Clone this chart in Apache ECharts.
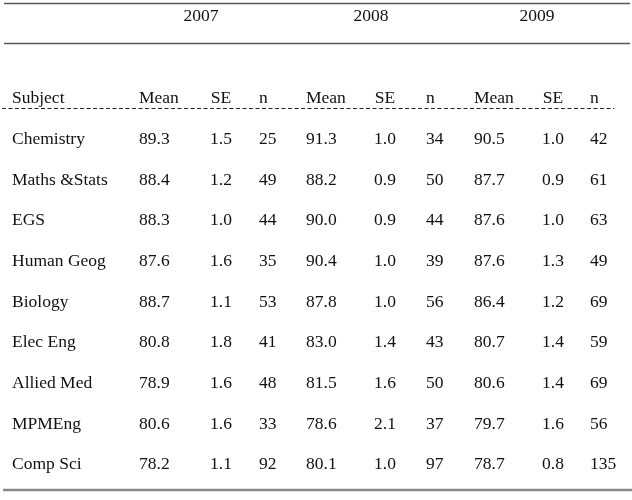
<!DOCTYPE html>
<html>
<head>
  <meta charset="utf-8">
  <title>Subject means by year</title>
  <script src="https://cdn.jsdelivr.net/npm/echarts/dist/echarts.min.js"></script>
  <style>
    html, body { margin: 0; padding: 0; background: #fff; }
    #main { width: 632px; height: 500px; }
  </style>
</head>
<body>

<div id="main"></div>

<script>
  // table data
  const years = ['2007', '2008', '2009'];
  const headers = ['Subject', 'Mean', 'SE', 'n', 'Mean', 'SE', 'n', 'Mean', 'SE', 'n'];
  const subjects = ['Chemistry', 'Maths &Stats', 'EGS', 'Human Geog', 'Biology',
    'Elec Eng', 'Allied Med', 'MPMEng', 'Comp Sci'];

  const mean2007 = [89.3, 88.4, 88.3, 87.6, 88.7, 80.8, 78.9, 80.6, 78.2];
  const se2007 = [1.5, 1.2, 1.0, 1.6, 1.1, 1.8, 1.6, 1.6, 1.1];
  const n2007 = [25, 49, 44, 35, 53, 41, 48, 33, 92];

  const mean2008 = [91.3, 88.2, 90.0, 90.4, 87.8, 83.0, 81.5, 78.6, 80.1];
  const se2008 = [1.0, 0.9, 0.9, 1.0, 1.0, 1.4, 1.6, 2.1, 1.0];
  const n2008 = [34, 50, 44, 39, 56, 43, 50, 37, 97];

  const mean2009 = [90.5, 87.7, 87.6, 87.6, 86.4, 80.7, 80.6, 79.7, 78.7];
  const se2009 = [1.0, 0.9, 1.0, 1.3, 1.2, 1.4, 1.4, 1.6, 0.8];
  const n2009 = [42, 61, 63, 49, 69, 59, 69, 56, 135];

  // layout: column anchors on the (hidden) x axis
  const colX = [12, 139, 221, 259, 306, 385, 426, 474, 553, 590];
  const colAlign = ['left', 'left', 'center', 'left', 'left', 'center', 'left', 'left', 'center', 'left'];
  const yearX = [201, 371, 537];

  const FONT = '"Liberation Serif", "Times New Roman", serif';
  const FS = 17.5;

  const columns = [
    subjects,
    mean2007.map(v => v.toFixed(1)), se2007.map(v => v.toFixed(1)), n2007.map(String),
    mean2008.map(v => v.toFixed(1)), se2008.map(v => v.toFixed(1)), n2008.map(String),
    mean2009.map(v => v.toFixed(1)), se2009.map(v => v.toFixed(1)), n2009.map(String)
  ];

  function cellText(x, y, text, align) {
    return {
      type: 'text',
      style: {
        x: x,
        y: y,
        text: text,
        fill: '#111',
        font: FS + 'px ' + FONT,
        align: align,
        verticalAlign: 'middle'
      }
    };
  }

  var myChart = echarts.init(document.getElementById('main'));

  var option = {
    animation: false,
    backgroundColor: '#fff',
    grid: { left: 0, right: 0, top: 119, bottom: 15 },
    xAxis: { type: 'value', min: 0, max: 632, show: false },
    yAxis: { type: 'category', data: subjects, inverse: true, show: false },
    graphic: [
      { type: 'line', shape: { x1: 4, y1: 3.5, x2: 630, y2: 3.5 },
        style: { stroke: '#555', lineWidth: 1.3 } },
      { type: 'line', shape: { x1: 4, y1: 43.5, x2: 630, y2: 43.5 },
        style: { stroke: '#555', lineWidth: 1.3 } },
      { type: 'line', shape: { x1: 2, y1: 108.5, x2: 614, y2: 108.5 },
        style: { stroke: '#222', lineWidth: 1, lineDash: [4, 2.5] } },
      { type: 'line', shape: { x1: 3, y1: 490, x2: 632, y2: 490 },
        style: { stroke: '#888', lineWidth: 2.5 } }
    ].concat(years.map((yr, i) => ({
      type: 'text',
      style: {
        x: yearX[i], y: 16.5, text: yr, fill: '#111',
        font: FS + 'px ' + FONT, align: 'center', verticalAlign: 'middle'
      }
    }))),
    series: [
      {
        // column headings, placed relative to the first row
        type: 'custom',
        silent: true,
        encode: { x: 0, y: 1 },
        data: [[0, 0]],
        renderItem: function (params, api) {
          const y = api.coord([0, 0])[1] - 41;
          return {
            type: 'group',
            children: headers.map((h, c) =>
              cellText(api.coord([colX[c], 0])[0], y, h, colAlign[c]))
          };
        }
      },
      {
        // one table row per subject
        type: 'custom',
        silent: true,
        encode: { x: 0, y: 1 },
        data: subjects.map((s, i) => [0, i]),
        renderItem: function (params, api) {
          const row = api.value(1);
          const y = api.coord([0, row])[1];
          return {
            type: 'group',
            children: columns.map((col, c) =>
              cellText(api.coord([colX[c], row])[0], y, col[row], colAlign[c]))
          };
        }
      }
    ]
  };

  myChart.setOption(option);
</script>
</body>
</html>
